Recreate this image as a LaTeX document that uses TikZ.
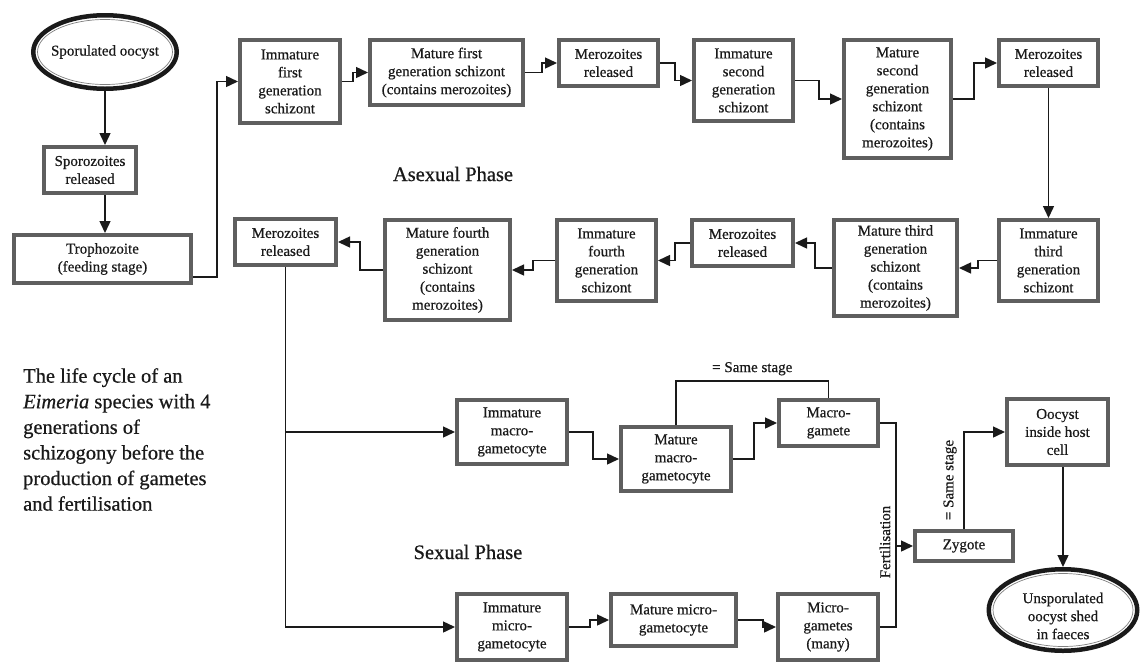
\documentclass[tikz,border=0pt]{standalone}
\usepackage{fontspec}
\setmainfont{Liberation Serif}[FakeBold=0.6, ItalicFeatures={FakeBold=0.6}]
\usetikzlibrary{arrows.meta,shapes.geometric}
\definecolor{boxgray}{HTML}{5F5F5F}
\definecolor{ink}{HTML}{1A1A1A}
\begin{document}
\begin{tikzpicture}[x=1pt,y=-1pt,
 box/.style={draw=boxgray, line width=4pt, outer sep=2pt, fill=white, align=center, inner sep=1pt, font=\fontsize{15}{18}\selectfont, text=ink},
 oval/.style={ellipse, draw=ink, line width=4.5pt, outer sep=2.25pt, inner sep=0pt, fill=white},
 conn/.style={draw=ink, line width=1.4pt},
 arr/.style={conn, -{Triangle[length=12pt,width=11pt]}},
 big/.style={font=\fontsize{20.5}{25.6}\selectfont, text=ink},
 small/.style={font=\fontsize{15}{18}\selectfont, text=ink}]
\useasboundingbox[fill=white] (0,0) rectangle (1141,665);

% ellipses
\node[oval, minimum width=143.5, minimum height=73.5,
  label={[small, align=center]center:Sporulated oocyst}] (spor) at (105,52) {};
\draw[gray, line width=0.7pt] (spor.center) ellipse [x radius=67.5, y radius=32.5];
\node[oval, minimum width=148.5, minimum height=81.5,
  label={[small, align=center, yshift=-6pt]center:Unsporulated\\oocyst shed\\in faeces}] (unspor) at (1063,610) {};
\draw[gray, line width=0.7pt] (unspor.center) ellipse [x radius=70, y radius=36.5];

% boxes
\node[box, minimum width=92, minimum height=46] (spo) at (90,170) {Sporozoites\\released};
\node[box, minimum width=177, minimum height=48] (tro) at (102.5,259) {Trophozoite\\(feeding stage)};
\node[box, minimum width=100, minimum height=83] (imm1) at (290,81.5) {Immature\\first\\generation\\schizont};
\node[box, minimum width=153, minimum height=65] (mat1) at (446.5,72.5) {Mature first\\generation schizont\\(contains merozoites)};
\node[box, minimum width=99, minimum height=46] (mer1) at (608.5,63) {Merozoites\\released};
\node[box, minimum width=99, minimum height=81] (imm2) at (743.5,80.5) {Immature\\second\\generation\\schizont};
\node[box, minimum width=107, minimum height=118] (mat2) at (897.5,99) {Mature\\second\\generation\\schizont\\(contains\\merozoites)};
\node[box, minimum width=99, minimum height=46] (mer2) at (1048.5,63) {Merozoites\\released};
\node[box, minimum width=99, minimum height=81] (imm3) at (1048.5,260.5) {Immature\\third\\generation\\schizont};
\node[box, minimum width=123, minimum height=96] (mat3) at (895.5,268) {Mature third\\generation\\schizont\\(contains\\merozoites)};
\node[box, minimum width=101, minimum height=46] (mer3) at (742.5,243) {Merozoites\\released};
\node[box, minimum width=99, minimum height=81] (imm4) at (606.5,260.5) {Immature\\fourth\\generation\\schizont};
\node[box, minimum width=125, minimum height=100] (mat4) at (447.5,270) {Mature fourth\\generation\\schizont\\(contains\\merozoites)};
\node[box, minimum width=101, minimum height=46] (mer4) at (285.5,242) {Merozoites\\released};
\node[box, minimum width=110, minimum height=64] (immMacro) at (512,432) {Immature\\macro-\\gametocyte};
\node[box, minimum width=110, minimum height=64] (matMacro) at (676,459) {Mature\\macro-\\gametocyte};
\node[box, minimum width=99, minimum height=46] (macro) at (828.5,423) {Macro-\\gamete};
\node[box, minimum width=98, minimum height=30] (zyg) at (964,546) {Zygote};
\node[box, minimum width=101, minimum height=66] (ooc) at (1057.5,432) {Oocyst\\inside host\\cell};
\node[box, minimum width=110, minimum height=66] (immMicro) at (512,627) {Immature\\micro-\\gametocyte};
\node[box, minimum width=125, minimum height=52] (matMicro) at (673.5,620) {Mature micro-\\gametocyte};
\node[box, minimum width=100, minimum height=66] (micro) at (828,627) {Micro-\\gametes\\(many)};

% texts
\node[big] (asex) at (453,174) {Asexual Phase};
\node[big] (sex) at (468,552) {Sexual Phase};
\node[big, anchor=north west, align=left, inner sep=0pt] (cap) at (23,368) {The life cycle of an\\\textit{Eimeria} species with 4\\generations of\\schizogony before the\\production of gametes\\and fertilisation};

% connectors
\draw[arr] (spor.south) -- (spor.south |- spo.north);
\draw[arr] (spor.south |- spo.south) -- (spor.south |- tro.north);
\draw[arr] (tro.east |- 0,277) -- ++(24,0) |- (imm1.west);
\draw[arr] (imm1.east) -- ++(11,0) |- (mat1.west);
\draw[arr] (mat1.east) -- ++(17,0) |- (mer1.west);
\draw[arr] (mer1.east) -- ++(15,0) |- (imm2.west);
\draw[arr] (imm2.east) -- ++(24,0) |- (mat2.west);
\draw[arr] (mat2.east) -- ++(21,0) |- (mer2.west);
\draw[arr] (mer2.south) -- (imm3.north);
\draw[arr] (imm3.west) -- ++(-19,0) |- (mat3.east);
\draw[arr] (mat3.west) -- ++(-17,0) |- (mer3.east);
\draw[arr] (mer3.west) -- ++(-15,0) |- (imm4.east);
\draw[arr] (imm4.west) -- ++(-22,0) |- (mat4.east);
\draw[arr] (mat4.west) -- ++(-23,0) |- (mer4.east);
\draw[arr] (mer4.south) |- (immMicro.west);
\draw[arr] (mer4.south |- immMacro.west) -- (immMacro.west);
\draw[arr] (immMacro.east) -- ++(24,0) |- (matMacro.west);
\draw[arr] (matMacro.east) -- ++(21,0) |- (macro.west);
\draw[conn] (matMacro.north) -- ++(0,-44) -| node[small, pos=0.25, above=5pt, inner sep=0pt] (ss1) {= Same stage} (macro.north);
\draw[arr] (immMicro.east) -- ++(21,0) |- (matMicro.west);
\draw[arr] (matMicro.east) -- ++(25,0) |- (micro.west);
\draw[conn] (macro.east) -- ++(16,0) coordinate (ft) -- (ft |- micro.east) -- (micro.east);
\draw[arr] (ft |- zyg.west) -- (zyg.west);
\path (ft |- zyg.west) ++(-11,-4) node[small, rotate=90] (fertl) {Fertilisation};
\draw[arr] (zyg.north) |- (ooc.west);
\path (zyg.north) ++(-14,-49) node[small, rotate=90] (ss2) {= Same stage};
\draw[arr] (unspor.north |- ooc.south) -- (unspor.north);
\end{tikzpicture}
\end{document}
